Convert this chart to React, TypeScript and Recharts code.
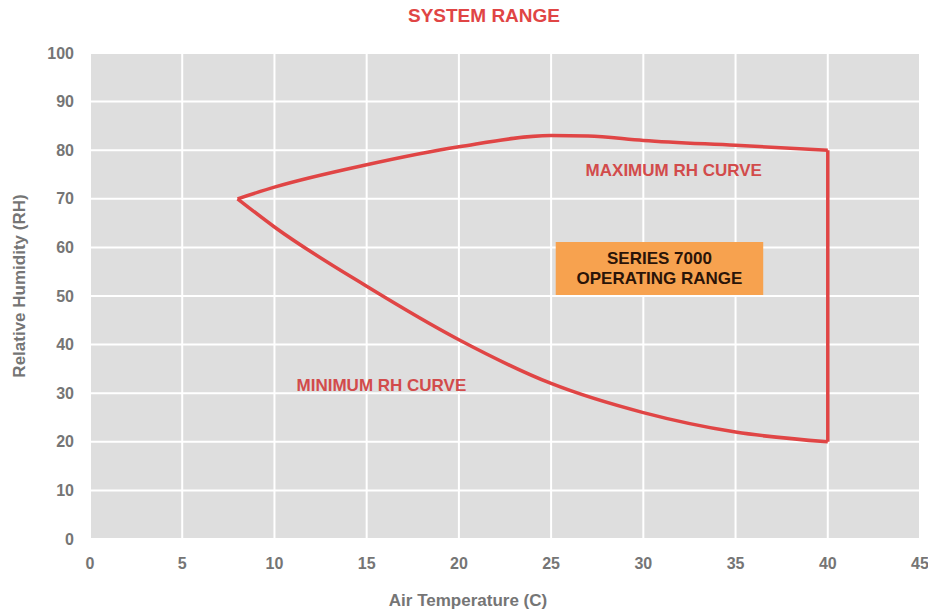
import React from 'react';
import {
  LineChart, Line, XAxis, YAxis, CartesianGrid, ReferenceArea, ReferenceDot, Label
} from 'recharts';

// air temperature (C) vs relative humidity (RH)
const maxCurve = [
  { t: 8, rh: 70 },
  { t: 10, rh: 72.4 },
  { t: 15, rh: 77 },
  { t: 20, rh: 80.7 },
  { t: 25, rh: 83 },
  { t: 27, rh: 82.9 },
  { t: 30, rh: 82 },
  { t: 35, rh: 81 },
  { t: 40, rh: 80 },
];

const minCurve = [
  { t: 8, rh: 70 },
  { t: 10, rh: 64.2 },
  { t: 15, rh: 52 },
  { t: 20, rh: 41 },
  { t: 25, rh: 32 },
  { t: 30, rh: 26 },
  { t: 35, rh: 22 },
  { t: 40, rh: 20 },
];

const edge = [
  { t: 40, rh: 80 },
  { t: 40, rh: 20 },
];

const xTicks = [0, 5, 10, 15, 20, 25, 30, 35, 40, 45];
const yTicks = [0, 10, 20, 30, 40, 50, 60, 70, 80, 90, 100];

const rangeBox = { x1: 25.25, x2: 36.5, y1: 50.2, y2: 61.1 };
const rangeText = ['SERIES 7000', 'OPERATING RANGE'];

const RED = '#e04545';
const GREY = '#757575';
const FONT = '"Liberation Sans", Arial, sans-serif';

const BoxLabel = (props: any) => {
  const { x, y, width, height } = props.viewBox;
  const cx = x + width / 2;
  const cy = y + height / 2;
  return (
    <text x={cx} textAnchor="middle" fill="#2a1408" fontSize={17} fontWeight="bold" fontFamily={FONT}>
      <tspan x={cx} y={cy - 5}>{rangeText[0]}</tspan>
      <tspan x={cx} y={cy + 15}>{rangeText[1]}</tspan>
    </text>
  );
};

const App: React.FC = () => {
  return (
    <div style={{ position: 'absolute', left: 0, top: 0, width: 928, height: 612, background: '#fff', fontFamily: FONT }}>
      <div style={{ position: 'absolute', left: 0, width: 968, top: 5, textAlign: 'center', color: RED, fontWeight: 'bold', fontSize: 19 }}>
        SYSTEM RANGE
      </div>
      <LineChart width={928} height={612} margin={{ top: 53, right: 8, bottom: 43, left: 30 }}>
        <CartesianGrid stroke="#ffffff" strokeWidth={2} fill="#dedede" />
        <XAxis
          type="number"
          dataKey="t"
          domain={[0, 45]}
          ticks={xTicks}
          allowDuplicatedCategory={false}
          axisLine={false}
          tickLine={false}
          tickSize={0}
          tickMargin={19}
          height={30}
          tick={{ fill: GREY, fontSize: 16, fontWeight: 'bold', fontFamily: FONT }}
        >
          <Label value="Air Temperature (C)" position="bottom" offset={25} dx={-37}
            style={{ fill: GREY, fontSize: 17, fontWeight: 'bold', fontFamily: FONT }} />
        </XAxis>
        <YAxis
          type="number"
          dataKey="rh"
          domain={[0, 100]}
          ticks={yTicks}
          axisLine={false}
          tickLine={false}
          tickSize={0}
          tickMargin={16}
          width={60}
          tick={{ fill: GREY, fontSize: 16, fontWeight: 'bold', fontFamily: FONT }}
        >
          <Label value="Relative Humidity (RH)" angle={-90} position="left" offset={11} dy={-10}
            style={{ fill: GREY, fontSize: 17, fontWeight: 'bold', fontFamily: FONT, textAnchor: 'middle' }} />
        </YAxis>
        <ReferenceArea {...rangeBox} fill="#f7a24f" fillOpacity={1} stroke="none" label={<BoxLabel />} />
        <Line data={maxCurve} dataKey="rh" type="monotone" stroke={RED} strokeWidth={3.5} dot={false} isAnimationActive={false} />
        <Line data={minCurve} dataKey="rh" type="monotone" stroke={RED} strokeWidth={3.5} dot={false} isAnimationActive={false} />
        <Line data={edge} dataKey="rh" type="linear" stroke={RED} strokeWidth={3.5} dot={false} isAnimationActive={false} />
        <ReferenceDot x={31.65} y={75.9} r={0} stroke="none" fill="none"
          label={{ value: 'MAXIMUM RH CURVE', position: 'center', fill: '#d24b4b', fontSize: 17, fontWeight: 'bold', fontFamily: FONT }} />
        <ReferenceDot x={15.8} y={31.7} r={0} stroke="none" fill="none"
          label={{ value: 'MINIMUM RH CURVE', position: 'center', fill: '#d24b4b', fontSize: 17, fontWeight: 'bold', fontFamily: FONT }} />
      </LineChart>
    </div>
  );
};

export default App;
